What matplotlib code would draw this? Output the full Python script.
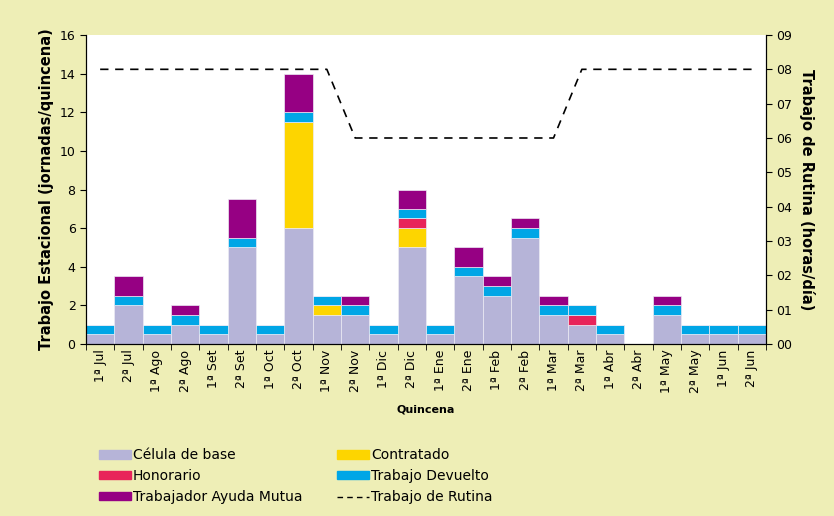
import matplotlib.pyplot as plt
from matplotlib.patches import Patch
from matplotlib.lines import Line2D
from matplotlib.ticker import FuncFormatter
import numpy as np

# Datos por quincena
quincenas = ['1ª Jul', '2ª Jul', '1ª Ago', '2ª Ago', '1ª Set', '2ª Set', '1ª Oct', '2ª Oct',
             '1ª Nov', '2ª Nov', '1ª Dic', '2ª Dic', '1ª Ene', '2ª Ene', '1ª Feb', '2ª Feb',
             '1ª Mar', '2ª Mar', '1ª Abr', '2ª Abr', '1ª May', '2ª May', '1ª Jun', '2ª Jun']
celula_base = [0.5, 2, 0.5, 1, 0.5, 5, 0.5, 6, 1.5, 1.5, 0.5, 5, 0.5, 3.5, 2.5, 5.5,
               1.5, 1, 0.5, 0, 1.5, 0.5, 0.5, 0.5]
contratado = [0, 0, 0, 0, 0, 0, 0, 5.5, 0.5, 0, 0, 1, 0, 0, 0, 0,
              0, 0, 0, 0, 0, 0, 0, 0]
honorario = [0, 0, 0, 0, 0, 0, 0, 0, 0, 0, 0, 0.5, 0, 0, 0, 0,
             0, 0.5, 0, 0, 0, 0, 0, 0]
devuelto = [0.5, 0.5, 0.5, 0.5, 0.5, 0.5, 0.5, 0.5, 0.5, 0.5, 0.5, 0.5, 0.5, 0.5, 0.5, 0.5,
            0.5, 0.5, 0.5, 0, 0.5, 0.5, 0.5, 0.5]
ayuda_mutua = [0, 1, 0, 0.5, 0, 2, 0, 2, 0, 0.5, 0, 1, 0, 1, 0.5, 0.5,
               0.5, 0, 0, 0, 0.5, 0, 0, 0]
rutina = [8, 8, 8, 8, 8, 8, 8, 8, 8, 6, 6, 6, 6, 6, 6, 6,
          6, 8, 8, 8, 8, 8, 8, 8]

series = [
    ('Célula de base', celula_base, '#b6b4d8'),
    ('Contratado', contratado, '#fdd500'),
    ('Honorario', honorario, '#e8245a'),
    ('Trabajo Devuelto', devuelto, '#00a6e6'),
    ('Trabajador Ayuda Mutua', ayuda_mutua, '#960083'),
]

bg = '#eeeeb6'
x = np.arange(len(quincenas))

fig = plt.figure(figsize=(8.34, 5.16), dpi=100, facecolor=bg)
ax = fig.add_axes([0.1031, 0.3333, 0.8154, 0.5989])
ax.set_facecolor('white')

bottom = np.zeros(len(quincenas))
for nombre, vals, color in series:
    vals = np.array(vals, dtype=float)
    ax.bar(x, vals, width=1.0, bottom=bottom, color=color,
           edgecolor='#ecebf5', linewidth=0.5)
    bottom += vals

ax.set_xlim(-0.5, len(quincenas) - 0.5)
ax.set_ylim(0, 16)
ax.set_yticks(range(0, 17, 2))
ax.set_xticks(x)
ax.set_xticklabels(quincenas, rotation=90, fontsize=9)
ax.tick_params(axis='x', which='major', length=0, pad=4)
ax.set_xticks(np.arange(-0.5, len(quincenas), 1), minor=True)
ax.tick_params(axis='x', which='minor', length=4, direction='out')
ax.tick_params(axis='y', labelsize=9, length=4)
ax.spines['top'].set_visible(False)
ax.set_ylabel('Trabajo Estacional (jornadas/quincena)', fontsize=10.5, fontweight='bold')
ax.set_xlabel('Quincena', fontsize=8, fontweight='bold', labelpad=8)

ax2 = ax.twinx()
ax2.plot(x, rutina, color='black', linestyle=(0, (5, 4)), linewidth=1.2)
ax2.set_ylim(0, 9)
ax2.set_yticks(range(0, 10))
ax2.yaxis.set_major_formatter(FuncFormatter(lambda v, p: '%02d' % int(v)))
ax2.tick_params(axis='y', labelsize=9, length=4)
ax2.spines['top'].set_visible(False)
ax2.set_ylabel('Trabajo de Rutina (horas/día)', fontsize=10.5, fontweight='bold',
               rotation=270, labelpad=16)

handles = [
    Patch(color='#b6b4d8', label='Célula de base'),
    Patch(color='#e8245a', label='Honorario'),
    Patch(color='#960083', label='Trabajador Ayuda Mutua'),
    Patch(color='#fdd500', label='Contratado'),
    Patch(color='#00a6e6', label='Trabajo Devuelto'),
    Line2D([], [], color='black', linestyle=(0, (4, 3)), linewidth=1, label='Trabajo de Rutina'),
]
fig.legend(handles=handles, ncol=2, frameon=False, fontsize=10,
           loc='upper left', bbox_to_anchor=(0.112, 0.142),
           handlelength=2.3, handleheight=0.55, handletextpad=0.15,
           columnspacing=2.5, labelspacing=0.5, borderaxespad=0)

plt.savefig('out.png', dpi=100, facecolor=bg)
